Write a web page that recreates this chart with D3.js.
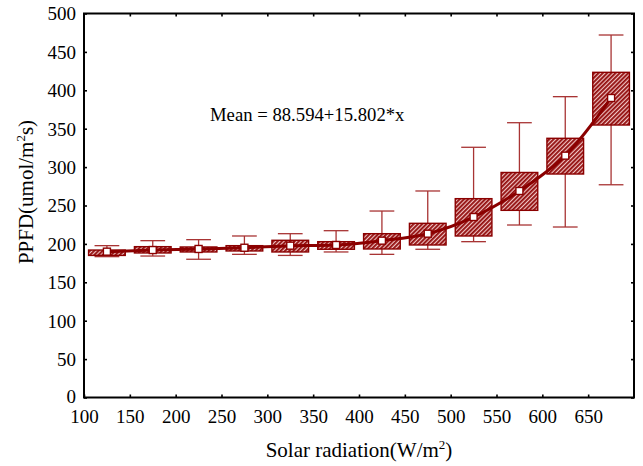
<!DOCTYPE html>
<html>
<head>
<meta charset="utf-8">
<script src="https://cdn.jsdelivr.net/npm/d3@7"></script>
<style>
  html, body { margin: 0; padding: 0; background: #fff; }
  svg { display: block; }
  text { font-family: "Liberation Serif", "Times New Roman", serif; fill: #000; }
</style>
</head>
<body>
<svg id="chart" width="643" height="466"></svg>
<script>
// Solar radiation bins (W/m2), bin centres
const radiation = [125, 175, 225, 275, 325, 375, 425, 475, 525, 575, 625, 675];
// PPFD per bin: mean, box (upper / lower) and whiskers (upper / lower)
const ppfdMean   = [189.9, 192.0, 193.4, 195.0, 197.7, 198.6, 204.2, 213.3, 235.0, 268.9, 314.9, 390.0];
const boxUpper   = [192.0, 196.4, 196.0, 197.7, 204.7, 202.9, 213.3, 226.8, 258.9, 293.0, 337.5, 423.4];
const boxLower   = [185.0, 188.2, 189.5, 190.8, 189.5, 193.0, 193.4, 198.6, 210.3, 243.7, 291.0, 354.8];
const whiskerTop = [197.7, 204.2, 205.5, 210.3, 213.3, 217.2, 242.8, 268.9, 325.8, 357.8, 391.7, 472.0];
const whiskerBot = [183.4, 184.2, 180.0, 186.4, 185.0, 189.5, 186.4, 193.0, 202.9, 224.6, 222.0, 277.0];
// Axis ticks
const xTicks = [100, 150, 200, 250, 300, 350, 400, 450, 500, 550, 600, 650];
const xTicksAll = [150, 200, 250, 300, 350, 400, 450, 500, 550, 600, 650];
const yTicks = [0, 50, 100, 150, 200, 250, 300, 350, 400, 450, 500];
const fitLabel = "Mean = 88.594+15.802*x";

const rows = radiation.map((r, i) => ({
  r, mean: ppfdMean[i], hi: boxUpper[i], lo: boxLower[i], wt: whiskerTop[i], wb: whiskerBot[i]
}));

const svg = d3.select("#chart");
const L = 84, R = 634, T = 13.5, B = 397.5;
const x = d3.scaleLinear().domain([100, 700]).range([L, R]);
const y = d3.scaleLinear().domain([0, 500]).range([B, T]);

const red = "#8b0000";
const boxHalf = 20, capHalf = 13.5;

// Hatch fill for the boxes
const defs = svg.append("defs");
const pat = defs.append("pattern")
  .attr("id", "hatch")
  .attr("patternUnits", "userSpaceOnUse")
  .attr("width", 3).attr("height", 3)
  .attr("patternTransform", "rotate(45)");
pat.append("rect").attr("width", 3).attr("height", 3).attr("fill", "#f0c4c4");
pat.append("line").attr("x1", 0.9).attr("y1", 0).attr("x2", 0.9).attr("y2", 3)
  .attr("stroke", "#930f0f").attr("stroke-width", 1.9);

// Whiskers
const wg = svg.append("g").attr("stroke", "#a83434").attr("stroke-width", 1.3).attr("fill", "none");
rows.forEach(d => {
  wg.append("line").attr("x1", x(d.r)).attr("x2", x(d.r)).attr("y1", y(d.wt)).attr("y2", y(d.wb));
  wg.append("line").attr("x1", x(d.r - capHalf)).attr("x2", x(d.r + capHalf)).attr("y1", y(d.wt)).attr("y2", y(d.wt));
  wg.append("line").attr("x1", x(d.r - capHalf)).attr("x2", x(d.r + capHalf)).attr("y1", y(d.wb)).attr("y2", y(d.wb));
});

// Boxes
svg.append("g").selectAll("rect").data(rows).join("rect")
  .attr("x", d => x(d.r - boxHalf))
  .attr("width", d => x(d.r + boxHalf) - x(d.r - boxHalf))
  .attr("y", d => y(d.hi))
  .attr("height", d => y(d.lo) - y(d.hi))
  .attr("fill", "url(#hatch)")
  .attr("stroke", red).attr("stroke-width", 1.4);

// Smooth line through the means
const line = d3.line().x(d => x(d.r)).y(d => y(d.mean)).curve(d3.curveCatmullRom);
svg.append("path").datum(rows).attr("d", line)
  .attr("fill", "none").attr("stroke", red).attr("stroke-width", 3);

// Mean markers
svg.append("g").selectAll("rect").data(rows).join("rect")
  .attr("x", d => x(d.r) - 3.5).attr("y", d => y(d.mean) - 3.5)
  .attr("width", 7).attr("height", 7)
  .attr("fill", "#fff").attr("stroke", red).attr("stroke-width", 1.4);

// Axes with inward ticks
const tickFont = 19;
const gx = svg.append("g").attr("transform", `translate(0,${B})`)
  .call(d3.axisBottom(x).tickValues(xTicks).tickSize(-3).tickPadding(12).tickFormat(d3.format("d")));
const gy = svg.append("g").attr("transform", `translate(${L},0)`)
  .call(d3.axisLeft(y).tickValues(yTicks).tickSize(-3).tickPadding(8).tickFormat(d3.format("d")));
const gt = svg.append("g").attr("transform", `translate(0,${T})`)
  .call(d3.axisTop(x).tickValues(xTicksAll).tickSize(-3).tickFormat(""));
const gr = svg.append("g").attr("transform", `translate(${R},0)`)
  .call(d3.axisRight(y).tickValues(yTicks).tickSize(-3).tickFormat(""));

[gx, gy, gt, gr].forEach(g => {
  g.select(".domain").remove();
  g.selectAll(".tick line").attr("stroke", "#000").attr("stroke-width", 1.6);
  g.selectAll("text").attr("font-family", null).attr("font-size", tickFont).attr("fill", "#000");
});
gx.selectAll("text").attr("dy", "0.71em");
gy.selectAll("text").attr("dy", "0.34em");
// the zero label sits a touch higher so it clears the first x label
gy.selectAll(".tick").filter(d => d === 0).select("text").attr("dy", "0.24em");

// Frame
svg.append("rect").attr("x", L).attr("y", T).attr("width", R - L).attr("height", B - T)
  .attr("fill", "none").attr("stroke", "#000").attr("stroke-width", 2);

// Fit equation
svg.append("text").attr("x", 210).attr("y", 121).attr("font-size", 18.7).text(fitLabel);

// Axis titles
const xt = svg.append("text").attr("x", 359).attr("y", 457).attr("text-anchor", "middle").attr("font-size", 21);
xt.append("tspan").text("Solar radiation(W/m");
xt.append("tspan").attr("font-size", 13).attr("dy", -8).text("2");
xt.append("tspan").attr("dy", 8).text(")");

const yt = svg.append("text").attr("transform", "translate(33,192) rotate(-90)")
  .attr("text-anchor", "middle").attr("font-size", 21);
yt.append("tspan").text("PPFD(umol/m");
yt.append("tspan").attr("font-size", 13).attr("dy", -8).text("2");
yt.append("tspan").attr("dy", 8).text("s)");
</script>
</body>
</html>
